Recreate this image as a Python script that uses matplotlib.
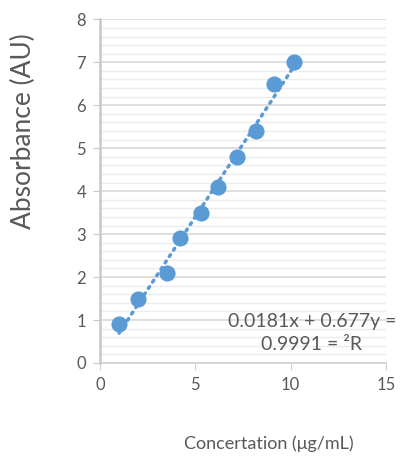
import numpy as np
import matplotlib.pyplot as plt

plt.rcParams['font.family'] = ['Lato', 'DejaVu Sans']

# Messwerte aus der Kalibrierkurve
concentration = [1.0, 2.0, 3.5, 4.2, 5.3, 6.2, 7.2, 8.2, 9.1, 10.2]
absorbance = [0.9, 1.5, 2.1, 2.9, 3.5, 4.1, 4.8, 5.4, 6.5, 7.0]

blue = '#5b9bd5'
grey = '#595959'

fig = plt.figure(figsize=(4.0, 4.57), dpi=100)
ax = fig.add_axes([0.25, 0.2057, 0.715, 0.752])

# Lineare Trendlinie
slope, intercept = np.polyfit(concentration, absorbance, 1)
x_fit = np.array([min(concentration), max(concentration)])
ax.plot(x_fit, slope * x_fit + intercept, linestyle=(0, (0.6, 1.6)),
        color=blue, linewidth=2.5, dash_capstyle='round', zorder=3)

ax.scatter(concentration, absorbance, s=135, color=blue, zorder=4, linewidths=0)

ax.set_xlim(0, 15)
ax.set_ylim(0, 8)
ax.set_xticks([0, 5, 10, 15])
ax.set_yticks(range(0, 9))
ax.set_yticks(np.arange(0, 8.01, 0.2), minor=True)
ax.grid(axis='y', which='major', color='#d9d9d9', linewidth=1.2)
ax.grid(axis='y', which='minor', color='#ececec', linewidth=1.0)
ax.set_axisbelow(True)

for side in ['top', 'right']:
    ax.spines[side].set_visible(False)
ax.spines['left'].set_color('#c8c8c8')
ax.spines['left'].set_linewidth(1.8)
ax.spines['bottom'].set_color('#d0d0d0')
ax.spines['bottom'].set_linewidth(1.2)
ax.tick_params(axis='y', which='major', length=5, color='#c8c8c8', labelcolor=grey, labelsize=12, pad=5)
ax.tick_params(axis='y', which='minor', length=0)
ax.tick_params(axis='x', length=5, color='#d0d0d0', labelcolor=grey, labelsize=12, pad=5)

ax.set_ylabel('Absorbance (AU)', fontsize=19, color=grey)
ax.yaxis.set_label_coords(-0.225, 0.674)
fig.text(0.672, 0.012, 'Concertation (μg/mL)', ha='center', va='bottom', fontsize=13, color=grey)

ax.text(1.035, 0.12, '0.0181x + 0.677y =', transform=ax.transAxes, ha='right', va='center',
        fontsize=14, color=grey, clip_on=False)
ax.text(11.07, 0.42, '0.9991 = ²R', ha='center', va='center', fontsize=14, color=grey)

fig.savefig('out.png', dpi=100)
